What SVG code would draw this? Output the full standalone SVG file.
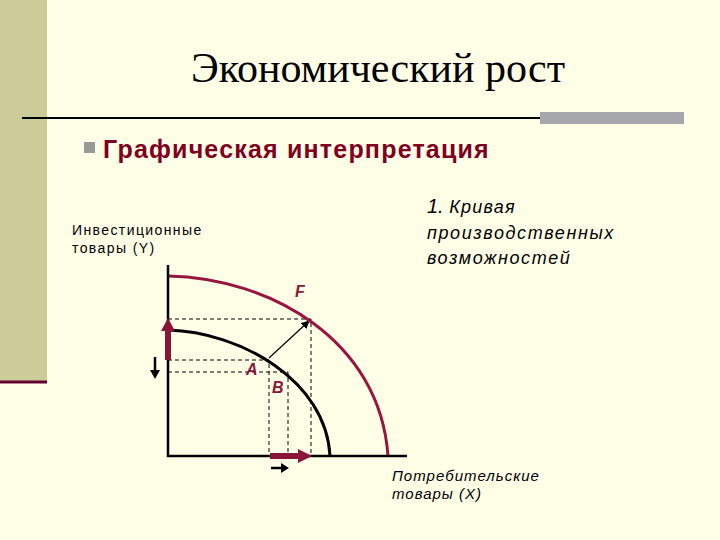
<svg xmlns="http://www.w3.org/2000/svg" width="720" height="540" viewBox="0 0 720 540">
<defs>
<style>
.ax{stroke:#000;stroke-width:2.5;fill:none}
.d{stroke:#000;stroke-width:1;stroke-dasharray:4,3;fill:none}
.lbl{font-family:"Liberation Sans",Arial,sans-serif;font-style:italic;fill:#000}
.pt{font-family:"Liberation Sans",Arial,sans-serif;font-size:16px;font-style:italic;font-weight:bold;fill:#8B1538}
</style>
<marker id="ah" viewBox="0 0 10 10" refX="9" refY="5" markerWidth="7" markerHeight="7" orient="auto"><path d="M0,0L10,5L0,10z" fill="#000"/></marker>
</defs>
<rect width="720" height="540" fill="#FFFFE8"/>
<rect x="0" y="0" width="47" height="382" fill="#CCCC99"/>
<line x1="0" y1="382" x2="47" y2="382" stroke="#660033" stroke-width="3"/>
<text x="378" y="82" text-anchor="middle" font-family="Liberation Serif,serif" font-size="42" fill="#000">Экономический рост</text>
<line x1="22" y1="118" x2="540" y2="118" stroke="#000" stroke-width="2"/>
<rect x="540" y="112" width="144" height="12" fill="#A6A6AD"/>
<rect x="84" y="142" width="11" height="11" fill="#999999"/>
<text x="103" y="158" font-family="Liberation Sans,Arial,sans-serif" font-size="25" font-weight="bold" letter-spacing="1.2" fill="#800020">Графическая интерпретация</text>
<text class="lbl" style="font-style:normal;font-size:14px;letter-spacing:1.4px"><tspan x="72" y="235">Инвестиционные</tspan><tspan x="72" y="253">товары (Y)</tspan></text>
<text x="427" y="213" font-family="Liberation Sans,Arial,sans-serif" font-size="20" font-style="italic" fill="#000">1. <tspan font-size="18" letter-spacing="1.2">Кривая</tspan></text>
<text class="lbl" style="font-size:18px;letter-spacing:1.6px"><tspan x="427" y="239">производственных</tspan><tspan x="427" y="264">возможностей</tspan></text>
<text class="lbl" style="font-size:15px;letter-spacing:1px"><tspan x="392" y="481">Потребительские</tspan><tspan x="392" y="499">товары (X)</tspan></text>
<g id="connectors">
<path class="d" d="M168,319H311V456M168,360H269V456M168,372H288V456"/>
<line x1="269" y1="358" x2="309" y2="321" stroke="#000" stroke-width="1.2" marker-end="url(#ah)"/>
</g>
<g id="curves">
<path d="M168,276 C270,278 380,340 388,456" stroke="#99143E" stroke-width="3" fill="none"/>
<path d="M168,330 C240,332 326,380 330,456" stroke="#000" stroke-width="3" fill="none"/>
<path class="ax" d="M168,265V456H407"/>
</g>
<g id="arrows">
<line x1="168" y1="360" x2="168" y2="330" stroke="#8B1538" stroke-width="6"/>
<path d="M161,331L168,318L175,331z" fill="#8B1538"/>
<line x1="270" y1="456" x2="300" y2="456" stroke="#8B1538" stroke-width="6"/>
<path d="M298,449L312,456L298,463z" fill="#8B1538"/>
<line x1="155" y1="357" x2="155" y2="372" stroke="#000" stroke-width="2.5"/>
<path d="M150,370L155,379L160,370z" fill="#000"/>
<line x1="271" y1="468" x2="283" y2="468" stroke="#000" stroke-width="2.5"/>
<path d="M281,463L289,468L281,473z" fill="#000"/>
</g>
<g id="labels">
<text class="pt" x="295" y="297">F</text>
<text class="pt" x="246" y="375">A</text>
<text class="pt" x="272" y="393">B</text>
</g>
</svg>
